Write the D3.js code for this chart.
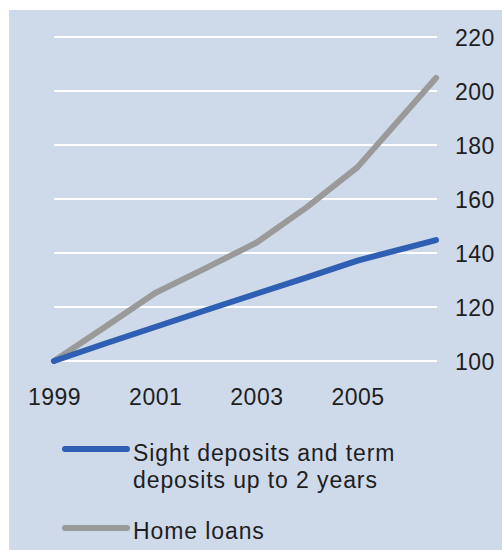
<!DOCTYPE html>
<html>
<head>
<meta charset="utf-8">
<script src="https://cdn.jsdelivr.net/npm/d3@7"></script>
<style>
  html, body { margin: 0; padding: 0; background: #ffffff; }
  svg { display: block; }
  text { font-family: "Liberation Sans", Arial, sans-serif; fill: #1e1e1e; }
</style>
</head>
<body>
<svg id="chart" width="502" height="550"></svg>
<script>
// Index, 1999 = 100
const years = [1999, 2000, 2001, 2002, 2003, 2004, 2005, 2006.55];
const deposits = [100, 106.4, 112.6, 118.8, 124.9, 131.0, 137.2, 144.8];
const homeLoans = [100, 112.5, 125.2, 134.4, 143.8, 157.0, 171.8, 204.8];
const yTicks = [100, 120, 140, 160, 180, 200, 220];
const xTicks = [1999, 2001, 2003, 2005];
const seriesNames = ["Sight deposits and term\ndeposits up to 2 years", "Home loans"];
const seriesColors = ["#2f5fb3", "#9a9a9a"];

const svg = d3.select("#chart");

// panel background
svg.append("rect")
  .attr("x", 9).attr("y", 10)
  .attr("width", 493).attr("height", 540)
  .attr("fill", "#ced9ea");

const x = d3.scaleLinear().domain([1999, 2006.55]).range([54, 436]);
const y = d3.scaleLinear().domain([100, 220]).range([361, 37]);

// horizontal gridlines
svg.append("g").selectAll("line")
  .data(yTicks).join("line")
  .attr("x1", 54).attr("x2", 437)
  .attr("y1", d => y(d)).attr("y2", d => y(d))
  .attr("stroke", "#ffffff").attr("stroke-width", 2);

// right-hand value axis
const yAxis = d3.axisRight(y).tickValues(yTicks).tickSize(0).tickPadding(0);
const gy = svg.append("g").attr("transform", "translate(455,0)").call(yAxis);
gy.select(".domain").remove();
gy.selectAll("text")
  .attr("font-size", 23).attr("font-family", "Liberation Sans, Arial, sans-serif")
  .attr("fill", "#1e1e1e").attr("letter-spacing", 0.5)
  .attr("dy", "0.36em");

// year axis
const xAxis = d3.axisBottom(x).tickValues(xTicks).tickFormat(d3.format("d")).tickSize(0).tickPadding(0);
const gx = svg.append("g").attr("transform", "translate(0,388)").call(xAxis);
gx.select(".domain").remove();
gx.selectAll("text")
  .attr("font-size", 23).attr("font-family", "Liberation Sans, Arial, sans-serif")
  .attr("fill", "#1e1e1e").attr("letter-spacing", 0.5)
  .attr("dy", "0.72em");

// series lines
const line = d3.line().x((d, i) => x(years[i])).y(d => y(d));
[homeLoans, deposits].forEach((s, k) => {
  svg.append("path")
    .datum(s)
    .attr("d", line)
    .attr("fill", "none")
    .attr("stroke", k === 0 ? seriesColors[1] : seriesColors[0])
    .attr("stroke-width", 6)
    .attr("stroke-linecap", "round")
    .attr("stroke-linejoin", "round");
});

// legend
const legendRows = [
  { y: 449, textY: 461 },
  { y: 528, textY: 539 }
];
seriesNames.forEach((name, i) => {
  const g = svg.append("g");
  g.append("line")
    .attr("x1", 65).attr("x2", 127)
    .attr("y1", legendRows[i].y).attr("y2", legendRows[i].y)
    .attr("stroke", seriesColors[i]).attr("stroke-width", 6)
    .attr("stroke-linecap", "round");
  const t = g.append("text")
    .attr("x", 133).attr("y", legendRows[i].textY)
    .attr("font-size", 23).attr("letter-spacing", 0.9);
  name.split("\n").forEach((ln, j) => {
    t.append("tspan").attr("x", 133).attr("dy", j === 0 ? 0 : 27).text(ln);
  });
});
</script>
</body>
</html>
